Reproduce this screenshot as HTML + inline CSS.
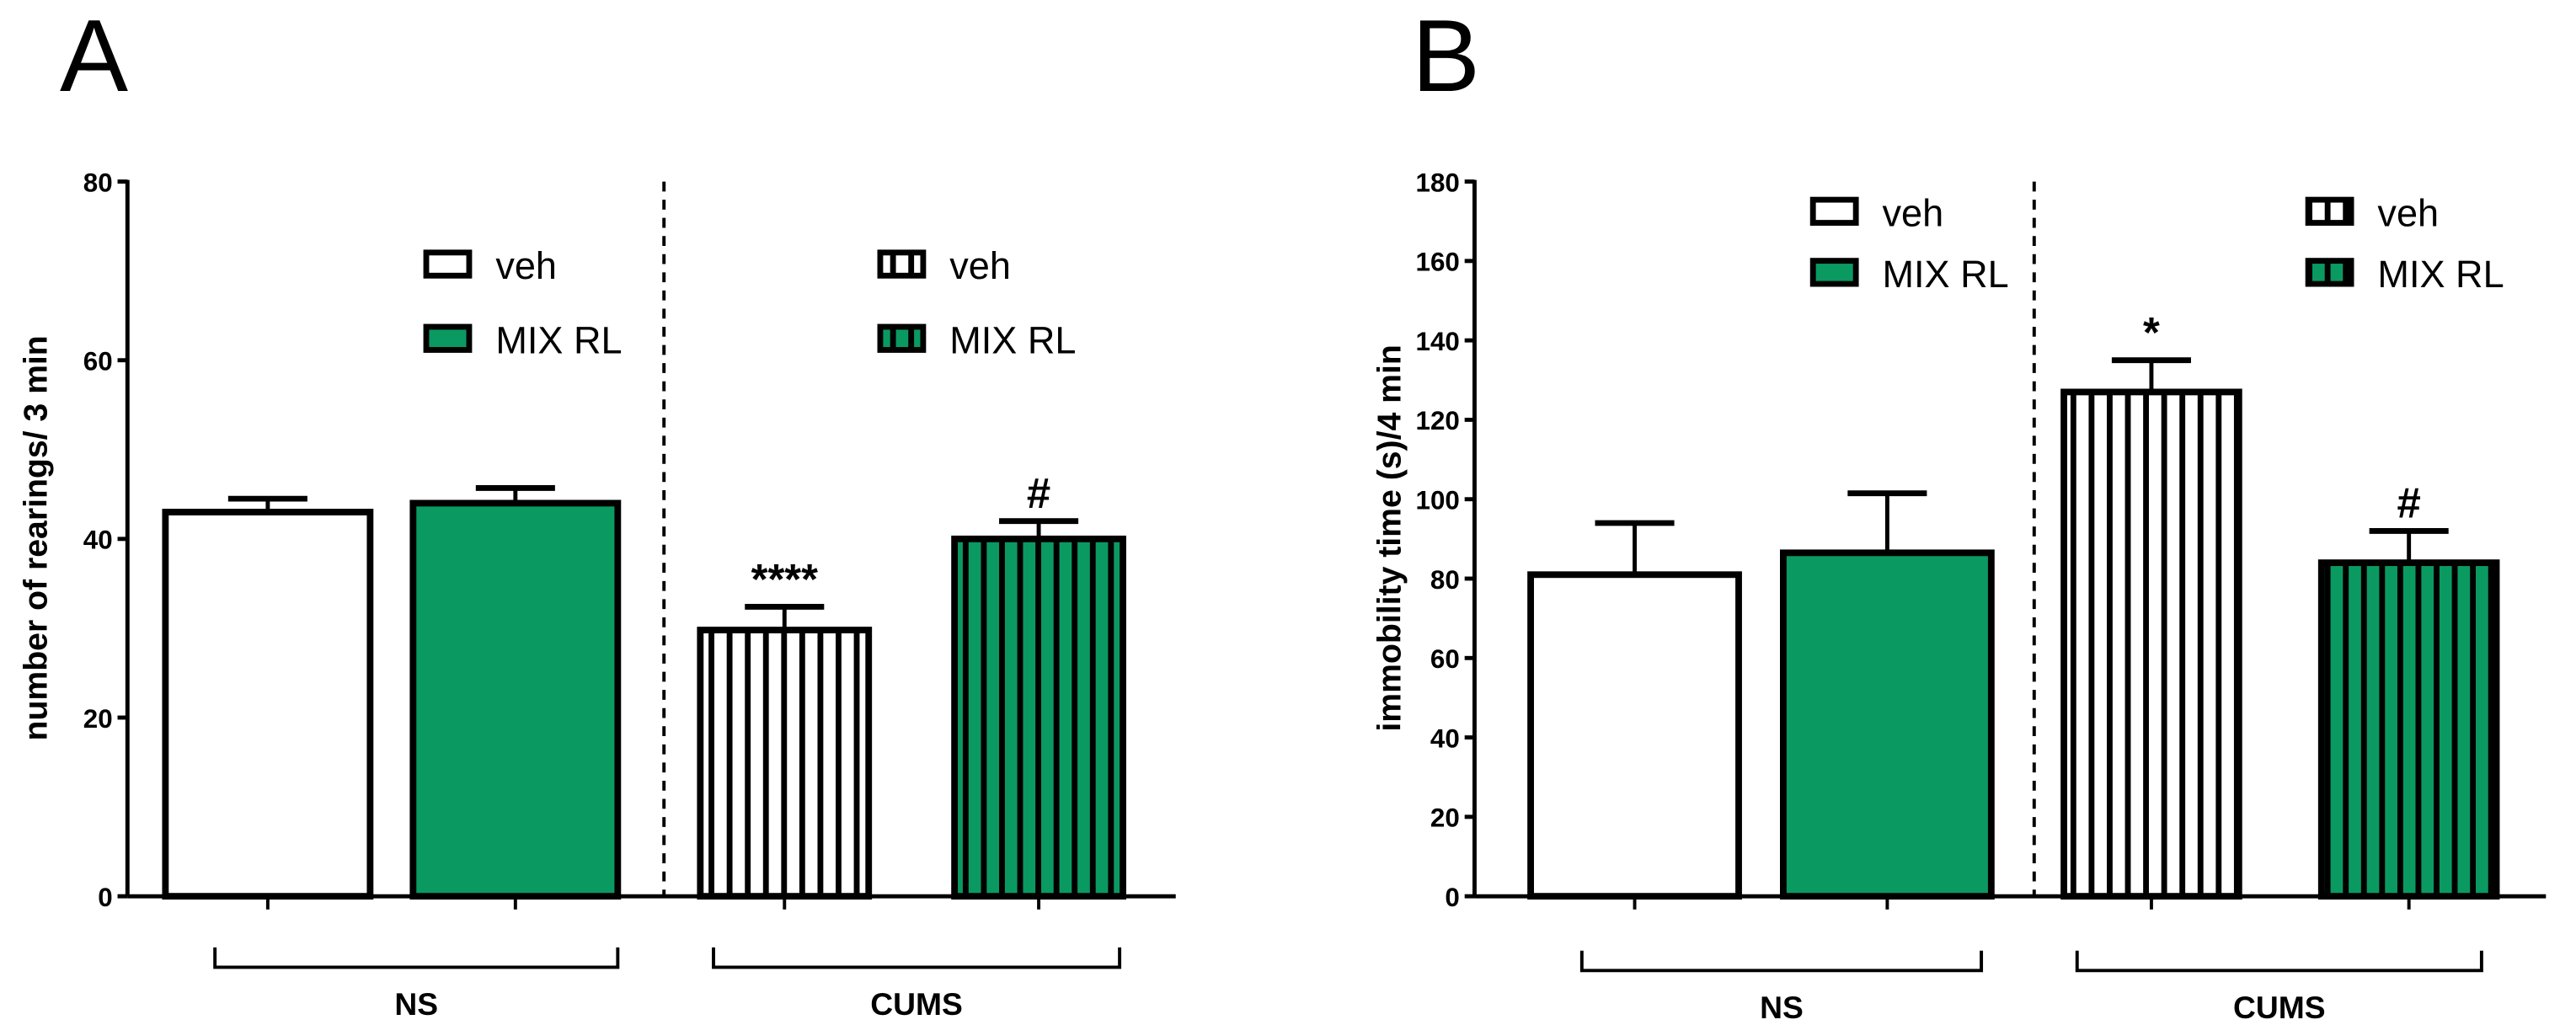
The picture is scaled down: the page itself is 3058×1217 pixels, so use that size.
<!DOCTYPE html>
<html><head><meta charset="utf-8"><style>
html,body{margin:0;padding:0;background:#fff;}
svg{display:block;}
text{font-family:"Liberation Sans",Arial,sans-serif;}
</style></head><body>
<svg id="fig" width="3058" height="1217" viewBox="0 0 1560 621" xmlns="http://www.w3.org/2000/svg">
<defs>
<pattern id="stripeW" patternUnits="userSpaceOnUse" width="11" height="10"><rect width="11" height="10" fill="#fff"/><rect x="0" width="3.5" height="10" fill="#000"/></pattern>
<pattern id="stripeG" patternUnits="userSpaceOnUse" width="11" height="10"><rect width="11" height="10" fill="#0b9962"/><rect x="0" width="3.5" height="10" fill="#000"/></pattern>
</defs>
<g id="panelA"></g>
<g id="panelB"></g>
</svg>
<script>
const groupsA = ["NS veh","NS MIX RL","CUMS veh","CUMS MIX RL"];
const valuesA = [43, 44, 29.8, 40];
const errorsA = [1.5, 1.7, 2.6, 2];
const marksA = ["", "", "****", "#"];
const ticksA = [0, 20, 40, 60, 80];

const valuesB = [81, 86.5, 127, 84];
const errorsB = [13, 15, 8, 8];
const marksB = ["", "", "*", "#"];
const ticksB = [0, 20, 40, 60, 80, 100, 120, 140, 160, 180];

const fills = ["#fff", "#0b9962", "url(#stripeW)", "url(#stripeG)"];
const NS = "http://www.w3.org/2000/svg";

function mk(parent, tag, attrs, txt) {
  const e = document.createElementNS(NS, tag);
  for (const k in attrs) e.setAttribute(k, attrs[k]);
  if (txt !== undefined) e.textContent = txt;
  parent.appendChild(e);
  return e;
}

function drawPanel(g, cfg) {
  const ymax = cfg.ticks[cfg.ticks.length - 1];
  const yS = v => cfg.y0 - (v / ymax) * (cfg.y0 - cfg.yTop);
  let e = mk(g, "text", {x: cfg.letterX, y: 55, "font-size": 62}, cfg.letter);
  
  
  e = mk(g, "line", {x1: cfg.ax, y1: yS(ymax) - 1, x2: cfg.ax, y2: cfg.y0, stroke: "#000", "stroke-width": 2.5});
  
  
  cfg.ticks.forEach(t => {
    const y = yS(t);
    const tk = mk(g, "line", {x1: cfg.ax - 6, y1: y, x2: cfg.ax, y2: y, stroke: "#000", "stroke-width": 2.5});
    
    
    const tl = mk(g, "text", {x: cfg.ax - 9, y: y + 6, "font-size": 16, "font-weight": "bold", "text-anchor": "end"}, String(t));
    
    
  });
  e = mk(g, "text", {x: 0, y: 0, "font-size": 20, "font-weight": "bold", "text-anchor": "middle", transform: `translate(${cfg.ylabX},${cfg.ylabY}) rotate(-90)`}, cfg.ylabel);
  
  
  e = mk(g, "line", {x1: cfg.ax, y1: cfg.y0, x2: cfg.xEnd, y2: cfg.y0, stroke: "#000", "stroke-width": 2.5});
  
  
  e = mk(g, "line", {x1: cfg.divX, y1: yS(ymax), x2: cfg.divX, y2: cfg.y0, stroke: "#000", "stroke-width": 2, "stroke-dasharray": "6,5"});
  
  
  cfg.values.forEach((v, i) => {
    const x = cfg.barX[i], w = cfg.barW[i];
    const cx = x + w / 2;
    const top = yS(v);
    const et = yS(v + cfg.errors[i]);
    const eb = mk(g, "line", {x1: cx, y1: et, x2: cx, y2: top, stroke: "#000", "stroke-width": 2.5});
    
    
    const ec = mk(g, "line", {x1: cx - 24, y1: et, x2: cx + 24, y2: et, stroke: "#000", "stroke-width": 3.5});
    
    
    const b = mk(g, "rect", {x: x, y: top, width: w, height: cfg.y0 - top, fill: fills[i], stroke: "#000", "stroke-width": 4});
    
    
    const tk = mk(g, "line", {x1: cx, y1: cfg.y0, x2: cx, y2: cfg.y0 + 8, stroke: "#000", "stroke-width": 2});
    
    
    if (cfg.marks[i]) {
      const m = mk(g, "text", {x: cx, y: et - 8, "font-size": 26, "font-weight": "bold", "text-anchor": "middle"}, cfg.marks[i]);
      
      
    }
  });
  cfg.brackets.forEach(br => {
    const p = mk(g, "path", {d: `M${br[0]},${cfg.brY - 12} V${cfg.brY} H${br[1]} V${cfg.brY - 12}`, fill: "none", stroke: "#000", "stroke-width": 2});
    
    
    const t = mk(g, "text", {x: (br[0] + br[1]) / 2, y: cfg.brY + 29, "font-size": 19, "font-weight": "bold", "text-anchor": "middle"}, br[2]);
    
    
  });
  cfg.legends.forEach(L => {
    const r = mk(g, "rect", {x: L[0], y: L[1], width: 26, height: 14, fill: L[3], stroke: "#000", "stroke-width": 3.5});
    
    
    const t = mk(g, "text", {x: L[0] + 42, y: L[1] + 16, "font-size": 23}, L[2]);
    
    
  });
}

drawPanel(document.getElementById("panelA"), {
  letter: "A", letterX: 36, ax: 77, y0: 543, yTop: 110, xEnd: 712, ticks: ticksA,
  ylabel: "number of rearings/ 3 min", ylabX: 28, ylabY: 326,
  values: valuesA, errors: errorsA, marks: marksA,
  barX: [100, 250, 424, 578], barW: [124, 124, 102, 102], divX: 402,
  brackets: [[130, 374, "NS"], [432, 678, "CUMS"]], brY: 586,
  legends: [[258, 153, "veh", fills[0]], [258, 198, "MIX RL", fills[1]], [533, 153, "veh", fills[2]], [533, 198, "MIX RL", fills[3]]]
});
drawPanel(document.getElementById("panelB"), {
  letter: "B", letterX: 855, ax: 893, y0: 543, yTop: 110, xEnd: 1542, ticks: ticksB,
  ylabel: "immobility time (s)/4 min", ylabX: 848, ylabY: 326,
  values: valuesB, errors: errorsB, marks: marksB,
  barX: [927, 1080, 1250, 1406], barW: [126, 126, 106, 106], divX: 1232,
  brackets: [[958, 1200, "NS"], [1258, 1503, "CUMS"]], brY: 588,
  legends: [[1098, 121, "veh", fills[0]], [1098, 158, "MIX RL", fills[1]], [1398, 121, "veh", fills[2]], [1398, 158, "MIX RL", fills[3]]]
});
</script>
</body></html>
